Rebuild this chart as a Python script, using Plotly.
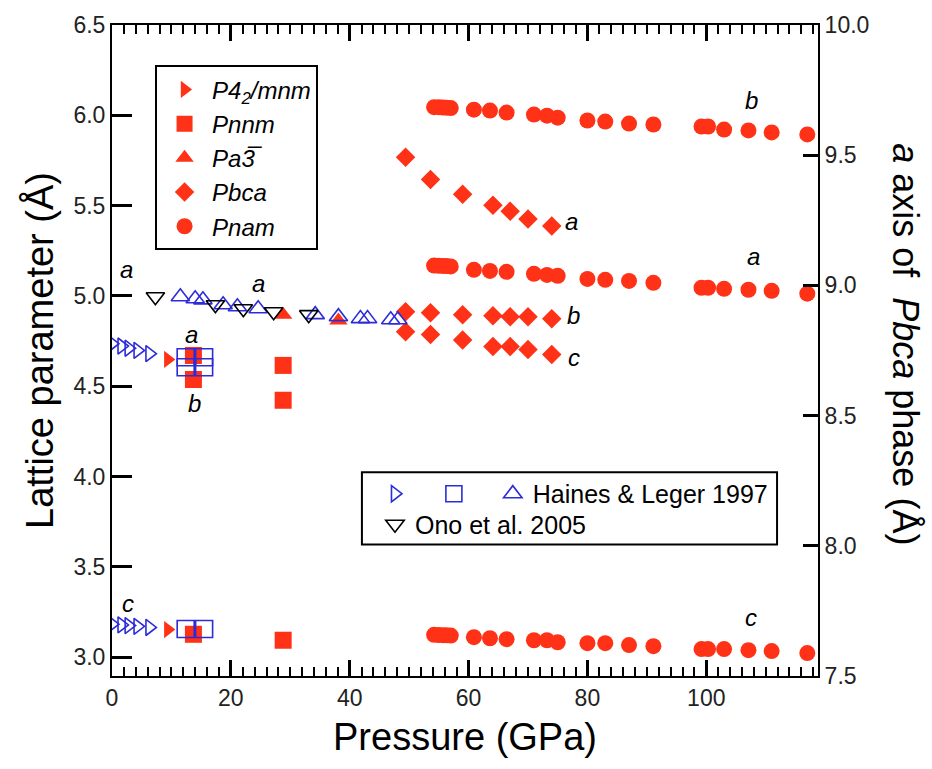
import plotly.graph_objects as go

RED = "#ff3116"
BLUE = "#2c2cd8"
FONT = "Liberation Sans, Arial, Helvetica, sans-serif"
NB = "\u00a0"

# ---------------- data ----------------
# Haines & Leger 1997: rutile (open right triangles)
hl_rut_P = [0.0, 1.6, 2.8, 4.3, 6.3]
hl_rut_a = [4.735, 4.722, 4.710, 4.698, 4.680]
hl_rut_c = [3.182, 3.178, 3.174, 3.170, 3.164]
# Haines & Leger 1997: CaCl2-type (open squares)
hl_pnnm_P = [12.4, 15.5]
hl_pnnm_a = [4.660, 4.660]
hl_pnnm_b = [4.605, 4.605]
hl_pnnm_c = [3.155, 3.155]
# Haines & Leger 1997: open up triangles
hl_tri_P = [11.5, 14.0, 15.3, 18.7, 21.1, 24.6, 34.2, 38.1, 41.8, 43.0, 46.9, 48.1]
hl_tri_a = [4.995, 4.984, 4.978, 4.951, 4.940, 4.929, 4.896, 4.885, 4.874, 4.874, 4.868, 4.868]
# Ono et al. 2005 (open down triangles)
ono_P = [7.3, 17.4, 22.1, 27.2, 33.1]
ono_a = [4.995, 4.951, 4.929, 4.912, 4.896]

# This work
rut_P = [9.4]
rut_a = [4.648]
rut_c = [3.152]

pnnm_P = [13.7, 28.8]
pnnm_a = [4.670, 4.615]
pnnm_b = [4.537, 4.422]
pnnm_c = [3.126, 3.093]

pa3_P = [28.8, 38.1]
pa3_a = [4.896, 4.863]

pbca_P = [49.4, 53.6, 59.0, 64.1, 67.0, 70.0, 74.0]
pbca_a = [9.492, 9.407, 9.350, 9.308, 9.285, 9.255, 9.228]   # right axis
pbca_b = [4.912, 4.907, 4.896, 4.890, 4.885, 4.885, 4.874]
pbca_c = [4.802, 4.786, 4.755, 4.720, 4.719, 4.703, 4.675]

pnam_P = [54.2, 55.0, 55.7, 56.3, 57.0, 60.9, 63.6, 66.4, 71.0, 73.2, 75.0,
          80.0, 83.0, 87.0, 91.1, 99.2, 100.3, 103.0, 107.1, 111.0, 117.0]
pnam_b = [6.045, 6.045, 6.043, 6.042, 6.040, 6.031, 6.026, 6.015, 6.004, 5.998, 5.987,
          5.971, 5.965, 5.954, 5.949, 5.938, 5.938, 5.921, 5.916, 5.905, 5.894]
pnam_a = [5.168, 5.167, 5.166, 5.165, 5.163, 5.144, 5.138, 5.133, 5.122, 5.116, 5.111,
          5.094, 5.089, 5.083, 5.072, 5.045, 5.045, 5.039, 5.034, 5.028, 5.012]
pnam_c = [3.123, 3.122, 3.121, 3.120, 3.119, 3.110, 3.104, 3.099, 3.093, 3.093, 3.082,
          3.077, 3.077, 3.066, 3.060, 3.044, 3.044, 3.044, 3.038, 3.033, 3.022]

# text labels: (x, y, text)
label_x = [2.5, 2.7, 13.3, 13.8, 24.6, 77.3, 77.6, 77.7, 107.6, 107.9, 107.6]
label_y = [5.144, 3.297, 4.786, 4.405, 5.067, 5.414, 4.890, 4.659, 6.081, 5.216, 3.220]
label_t = ["a", "c", "a", "b", "a", "a", "b", "c", "b", "a", "c"]

X_RANGE = [0, 118.8]
Y_RANGE = [2.895, 6.5]
Y2_RANGE = [7.5, 10.0]

phase_names = ["<i>P4<sub>2</sub>/mnm</i>", "<i>Pnnm</i>",
               "<i>Pa3\u0305</i>", "<i>Pbca</i>", "<i>Pnam</i>"]

fig = go.Figure()

def red(x, y, sym, size, name=None, show=False, group=None, yaxis="y"):
    fig.add_trace(go.Scatter(
        x=x, y=y, mode="markers", yaxis=yaxis, name=name, showlegend=show,
        legendgroup=group, legend="legend",
        marker=dict(symbol=sym, size=size, color=RED, line=dict(width=0))))

red(rut_P * 2, rut_a + rut_c, "triangle-right", 15, phase_names[0], True, "rut")
red(pnnm_P * 3, pnnm_a + pnnm_b + pnnm_c, "square", 17, phase_names[1], True, "pnnm")
red(pa3_P, pa3_a, "triangle-up", 16, phase_names[2], True, "pa3")
red(pbca_P * 2, pbca_b + pbca_c, "diamond", 15, phase_names[3], True, "pbca")
red(pbca_P, pbca_a, "diamond", 15, None, False, "pbca", "y2")
red(pnam_P * 3, pnam_a + pnam_b + pnam_c, "circle", 16, phase_names[4], True, "pnam")

def open_tr(x, y, sym, size, color, name, legend):
    fig.add_trace(go.Scatter(
        x=x, y=y, mode="markers", name=name, showlegend=True, legend=legend,
        marker=dict(symbol=sym, size=size, color=color, line=dict(width=1.6, color=color))))

open_tr(hl_rut_P * 2, hl_rut_a + hl_rut_c, "triangle-right-open", 14, BLUE, NB * 2, "legend2")
open_tr(hl_pnnm_P * 3, hl_pnnm_a + hl_pnnm_b + hl_pnnm_c, "square-open", 17, BLUE, NB * 2, "legend2")
open_tr(hl_tri_P, hl_tri_a, "triangle-up-open", 16, BLUE, "Haines & Leger 1997", "legend2")
open_tr(ono_P, ono_a, "triangle-down-open", 16, "black", "Ono et al. 2005", "legend3")

for x, y, t in zip(label_x, label_y, label_t):
    fig.add_annotation(x=x, y=y, xref="x", yref="y", text="<i>%s</i>" % t,
                       showarrow=False, font=dict(size=24, color="black", family=FONT))

fig.add_annotation(xref="paper", yref="paper", x=1.123, y=0.51, textangle=90,
                   xanchor="center", yanchor="middle",
                   text="<i>a</i> axis of  <i>Pbca</i> phase (Å)", showarrow=False,
                   font=dict(size=36, color="black", family=FONT))

# box around the reference-data legend
fig.add_shape(type="rect", xref="paper", yref="paper", x0=0.354, x1=0.942, y0=0.202, y1=0.313,
              line=dict(color="black", width=2), fillcolor="rgba(0,0,0,0)", layer="above")

TICKFONT = dict(size=23, color="#222", family=FONT)

fig.update_layout(
    width=932, height=769,
    margin=dict(l=112, r=114, t=22, b=93),
    paper_bgcolor="white", plot_bgcolor="white",
    font=dict(family=FONT, color="black"),
    xaxis=dict(range=X_RANGE, dtick=20, tick0=0,
               ticks="inside", ticklen=16, tickwidth=2.5, tickcolor="black",
               showline=True, linewidth=2, linecolor="black", mirror="ticks",
               showgrid=False, zeroline=False, tickfont=TICKFONT,
               minor=dict(dtick=2, tick0=0, ticks="inside", ticklen=9, tickwidth=2,
                          tickcolor="black", showgrid=False),
               title=dict(text="Pressure (GPa)", font=dict(size=38, family=FONT), standoff=14)),
    yaxis=dict(range=Y_RANGE, dtick=0.5, tick0=3.0, tickformat=".1f",
               ticks="inside", ticklen=20, tickwidth=2.5, tickcolor="black",
               showline=True, linewidth=2, linecolor="black",
               showgrid=False, zeroline=False, tickfont=TICKFONT,
               title=dict(text="Lattice parameter (Å)", font=dict(size=38, family=FONT), standoff=8)),
    yaxis2=dict(range=Y2_RANGE, dtick=0.5, tick0=7.5, tickformat=".1f",
                ticks="inside", ticklen=15, tickwidth=2.5, tickcolor="black",
                showline=True, linewidth=2, linecolor="black",
                showgrid=False, zeroline=False, tickfont=TICKFONT,
                overlaying="y", side="right"),
    legend=dict(x=0.061, y=0.938, xanchor="left", yanchor="top", bgcolor="white",
                bordercolor="black", borderwidth=2, tracegroupgap=0, itemwidth=45,
                font=dict(size=24, color="black", family=FONT)),
    legend2=dict(x=0.3725, y=0.315, xanchor="left", yanchor="top", orientation="h",
                 bgcolor="rgba(0,0,0,0)", borderwidth=0,
                 font=dict(size=25, color="black", family=FONT)),
    legend3=dict(x=0.3725, y=0.268, xanchor="left", yanchor="top", orientation="h",
                 bgcolor="rgba(0,0,0,0)", borderwidth=0,
                 font=dict(size=25, color="black", family=FONT)),
)

fig.write_html("out.html")
